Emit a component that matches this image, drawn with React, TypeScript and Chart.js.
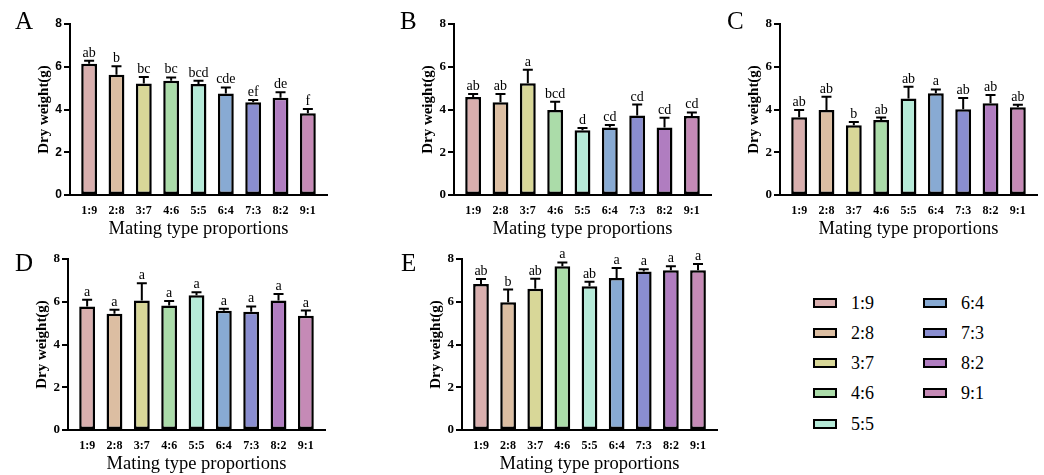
import React, { useEffect, useRef } from "react";
import { Chart, registerables } from "chart.js";

Chart.register(...registerables);

const CATEGORIES = ["1:9", "2:8", "3:7", "4:6", "5:5", "6:4", "7:3", "8:2", "9:1"];
const COLORS = ["#d9afae", "#dcbea2", "#d8d798", "#abdca9", "#b6ead8", "#88aad3", "#8a8ed0", "#b07dc0", "#c58ab6"];
const Y_TICKS = [0, 2, 4, 6, 8];
const X_TITLE = "Mating type proportions";
const Y_TITLE = "Dry weight(g)";

const A_VALUES = [6.14, 5.63, 5.22, 5.34, 5.19, 4.75, 4.34, 4.55, 3.83];
const A_ERRORS = [0.14, 0.39, 0.3, 0.16, 0.15, 0.28, 0.11, 0.26, 0.19];
const A_LETTERS = ["ab", "b", "bc", "bc", "bcd", "cde", "ef", "de", "f"];

const B_VALUES = [4.59, 4.34, 5.23, 3.98, 3.03, 3.16, 3.72, 3.16, 3.7];
const B_ERRORS = [0.13, 0.39, 0.63, 0.38, 0.1, 0.12, 0.51, 0.45, 0.16];
const B_LETTERS = ["ab", "ab", "a", "bcd", "d", "cd", "cd", "cd", "cd"];

const C_VALUES = [3.64, 3.98, 3.26, 3.51, 4.52, 4.76, 4.01, 4.29, 4.1];
const C_ERRORS = [0.34, 0.62, 0.16, 0.11, 0.55, 0.18, 0.53, 0.39, 0.12];
const C_LETTERS = ["ab", "ab", "b", "ab", "ab", "a", "ab", "ab", "ab"];

const D_VALUES = [5.78, 5.44, 6.06, 5.83, 6.3, 5.58, 5.53, 6.06, 5.34];
const D_ERRORS = [0.31, 0.19, 0.81, 0.2, 0.15, 0.09, 0.25, 0.3, 0.25];
const D_LETTERS = ["a", "a", "a", "a", "a", "a", "a", "a", "a"];

const E_VALUES = [6.83, 5.98, 6.61, 7.66, 6.72, 7.11, 7.42, 7.47, 7.47];
const E_ERRORS = [0.24, 0.59, 0.47, 0.18, 0.22, 0.47, 0.1, 0.19, 0.3];
const E_LETTERS = ["ab", "b", "ab", "a", "ab", "a", "a", "a", "a"];

const SERIF = '"Liberation Serif", "Times New Roman", serif';
const SANS = '"Liberation Sans", Arial, sans-serif';

type Panel = {
  label: string;
  values: number[];
  errors: number[];
  letters: string[];
  axisX: number;
  right: number;
  top: number;
  bottom: number;
  sansTicks: boolean;
  labelX: number;
  labelY: number;
};

const PANELS: Panel[] = [
  { label: "A", values: A_VALUES, errors: A_ERRORS, letters: A_LETTERS, axisX: 70, right: 327, top: 24, bottom: 195, sansTicks: true, labelX: 15, labelY: 30 },
  { label: "B", values: B_VALUES, errors: B_ERRORS, letters: B_LETTERS, axisX: 454, right: 711, top: 24, bottom: 195, sansTicks: false, labelX: 400, labelY: 30 },
  { label: "C", values: C_VALUES, errors: C_ERRORS, letters: C_LETTERS, axisX: 780, right: 1037, top: 24, bottom: 195, sansTicks: false, labelX: 727, labelY: 30 },
  { label: "D", values: D_VALUES, errors: D_ERRORS, letters: D_LETTERS, axisX: 68, right: 325, top: 259, bottom: 430, sansTicks: false, labelX: 15, labelY: 272 },
  { label: "E", values: E_VALUES, errors: E_ERRORS, letters: E_LETTERS, axisX: 462, right: 717, top: 259, bottom: 430, sansTicks: false, labelX: 401, labelY: 272 },
];

const LEFT_W = 70;
const PAD_TOP = 20;
const PAD_RIGHT = 6;
const BOTTOM_H = 45;

function PanelChart({ p }: { p: Panel }) {
  const ref = useRef<HTMLCanvasElement | null>(null);
  const width = p.right - p.axisX + LEFT_W + PAD_RIGHT;
  const height = PAD_TOP + (p.bottom - p.top) + BOTTOM_H;

  useEffect(() => {
    if (!ref.current) return;
    const errPlugin = {
      id: "errLetters",
      afterDatasetsDraw(chart: any) {
        const ctx = chart.ctx;
        const meta = chart.getDatasetMeta(0);
        const ys = chart.scales.y;
        ctx.save();
        ctx.strokeStyle = "#000";
        ctx.fillStyle = "#000";
        ctx.lineWidth = 2;
        ctx.font = `14px ${SERIF}`;
        ctx.textAlign = "center";
        ctx.textBaseline = "alphabetic";
        meta.data.forEach((bar: any, i: number) => {
          const x = bar.x;
          const y0 = ys.getPixelForValue(p.values[i]);
          const y1 = ys.getPixelForValue(p.values[i] + p.errors[i]);
          ctx.beginPath();
          ctx.moveTo(x, y0);
          ctx.lineTo(x, y1);
          ctx.moveTo(x - 5, y1);
          ctx.lineTo(x + 5, y1);
          ctx.stroke();
          ctx.fillText(p.letters[i], x, y1 - 4);
        });
        ctx.restore();
      },
    };
    const chart = new Chart(ref.current, {
      type: "bar",
      data: {
        datasets: [
          {
            data: p.values.map((v, i) => ({ x: i, y: v })) as any,
            backgroundColor: COLORS,
            borderColor: "#000",
            borderWidth: 2.5,
            borderSkipped: false,
            barPercentage: 0.58,
            categoryPercentage: 1,
          },
        ],
      },
      options: {
        responsive: false,
        animation: false,
        devicePixelRatio: 1,
        layout: { padding: { top: PAD_TOP, right: PAD_RIGHT, left: 0, bottom: 0 } },
        plugins: { legend: { display: false }, tooltip: { enabled: false } },
        scales: {
          x: {
            type: "linear",
            offset: false,
            min: -0.7,
            max: 8.7,
            grid: { display: false, drawTicks: false, offset: false },
            border: { display: true, color: "#000", width: 2 },
            afterBuildTicks: (s: any) => {
              s.ticks = CATEGORIES.map((_, i) => ({ value: i }));
            },
            ticks: {
              callback: (v: any) => CATEGORIES[v as number],
              font: { family: SERIF, weight: "bold", size: 12 },
              color: "#000",
              padding: 9,
              maxRotation: 0,
              autoSkip: false,
            },
            title: {
              display: true,
              text: X_TITLE,
              font: { family: SERIF, size: 18.5 },
              color: "#000",
              padding: { top: 0, bottom: 0 },
            },
            afterFit: (s: any) => {
              s.height = BOTTOM_H;
            },
          } as any,
          y: {
            min: 0,
            max: 8,
            afterBuildTicks: (s: any) => {
              s.ticks = Y_TICKS.map((v) => ({ value: v }));
            },
            grid: { drawOnChartArea: false, drawTicks: true, tickLength: 6, color: "#000", lineWidth: 2 },
            border: { display: true, color: "#000", width: 2 },
            ticks: {
              font: p.sansTicks
                ? { family: SANS, weight: "bold", size: 12 }
                : { family: SERIF, weight: "bold", size: 13 },
              color: "#000",
              padding: 2,
            },
            title: {
              display: true,
              text: Y_TITLE,
              font: { family: SERIF, weight: "bold", size: 15 },
              color: "#000",
              padding: { top: 35, bottom: 0 },
            },
            afterFit: (s: any) => {
              s.width = LEFT_W;
            },
          } as any,
        },
      },
      plugins: [errPlugin],
    });
    return () => chart.destroy();
  }, []);

  return (
    <canvas
      ref={ref}
      width={width}
      height={height}
      style={{
        position: "absolute",
        left: p.axisX - LEFT_W,
        top: p.top - PAD_TOP,
        width,
        height,
      }}
    />
  );
}

const LEGEND_COLS = [
  { boxX: 813, textX: 851, start: 0, count: 5 },
  { boxX: 923, textX: 961, start: 5, count: 4 },
];
const LEGEND_ROWS_Y = [302.7, 332.9, 363.2, 393.4, 423.7];

export default function App() {
  return (
    <div style={{ position: "absolute", left: 0, top: 0, width: 1044, height: 475, background: "#fff", overflow: "hidden" }}>
      {PANELS.map((p) => (
        <PanelChart key={p.label} p={p} />
      ))}
      {PANELS.map((p) => (
        <div
          key={"l" + p.label}
          style={{
            position: "absolute",
            left: p.labelX,
            top: p.labelY - 22,
            fontFamily: SERIF,
            fontSize: 25,
            lineHeight: "25px",
            color: "#000",
          }}
        >
          {p.label}
        </div>
      ))}
      {LEGEND_COLS.map((col) =>
        CATEGORIES.slice(col.start, col.start + col.count).map((cat, j) => {
          const idx = col.start + j;
          const cy = LEGEND_ROWS_Y[j];
          return (
            <React.Fragment key={cat}>
              <div
                style={{
                  position: "absolute",
                  left: col.boxX,
                  top: cy - 5,
                  width: 24,
                  height: 10,
                  boxSizing: "border-box",
                  border: "2.5px solid #000",
                  background: COLORS[idx],
                }}
              />
              <div
                style={{
                  position: "absolute",
                  left: col.textX,
                  top: cy - 11,
                  fontFamily: SERIF,
                  fontSize: 18,
                  lineHeight: "22px",
                  color: "#000",
                }}
              >
                {cat}
              </div>
            </React.Fragment>
          );
        })
      )}
    </div>
  );
}
